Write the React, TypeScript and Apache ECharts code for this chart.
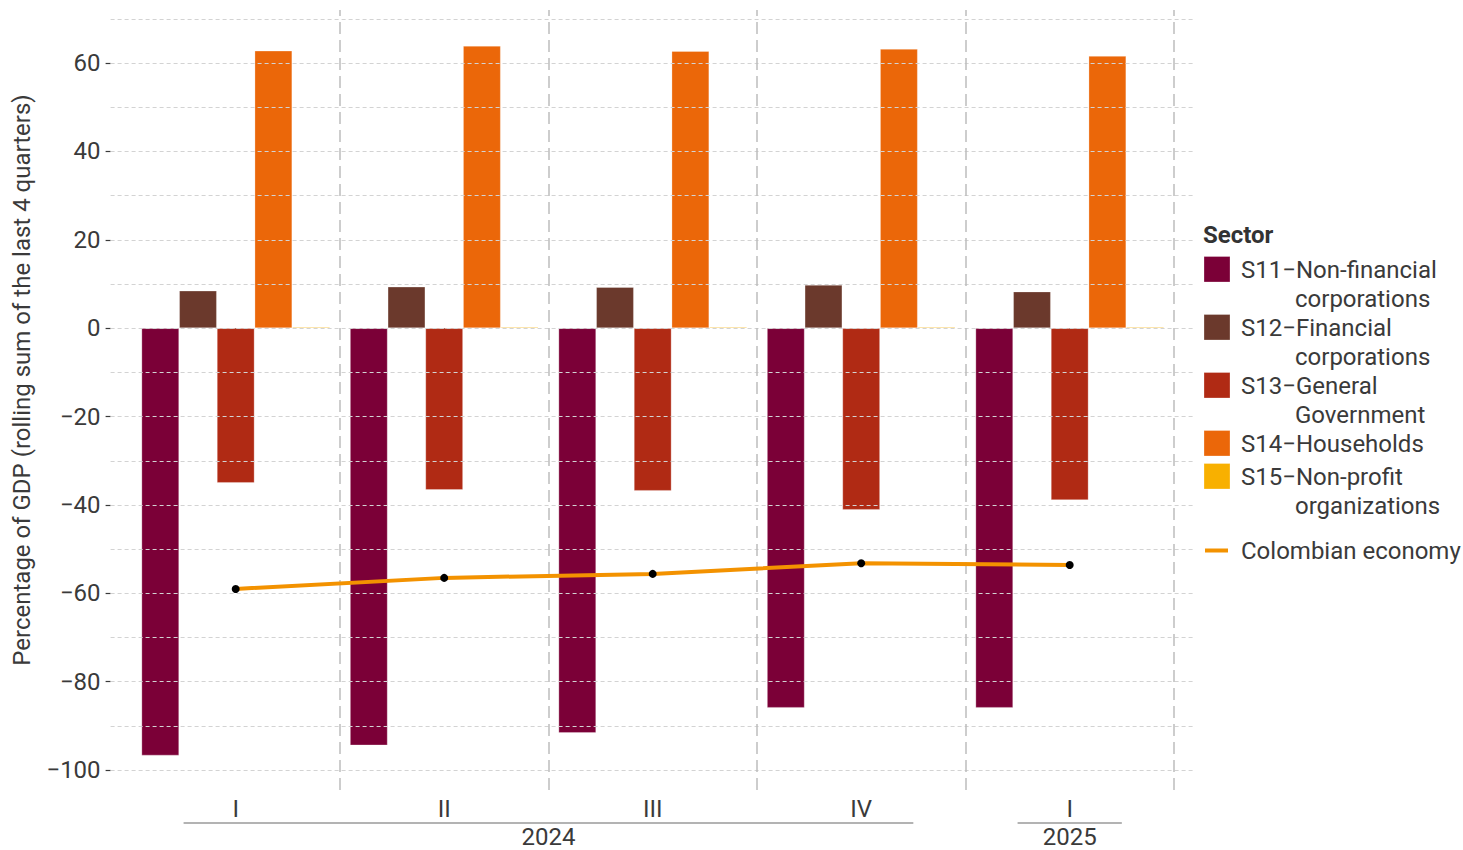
import React, { useEffect, useRef } from "react";
import * as echarts from "echarts";

// ---- data ----
const quarters = ["I", "II", "III", "IV", "I"];
const years = ["2024", "2024", "2024", "2024", "2025"];
const categoryKeys = quarters.map((q, i) => `${years[i]}-${q}`);

const sectorNames = [
  "S11−Non-financial corporations",
  "S12−Financial corporations",
  "S13−General Government",
  "S14−Households",
  "S15−Non-profit organizations",
];
const legendLines = [
  ["S11−Non-financial", "corporations"],
  ["S12−Financial", "corporations"],
  ["S13−General", "Government"],
  ["S14−Households"],
  ["S15−Non-profit", "organizations"],
];
const s11 = [-96.7, -94.4, -91.6, -85.9, -85.9];
const s12 = [8.5, 9.4, 9.3, 9.8, 8.3];
const s13 = [-35.0, -36.6, -36.8, -41.1, -38.9];
const s14 = [62.8, 63.9, 62.7, 63.2, 61.6];
const s15 = [0.3, 0.3, 0.3, 0.3, 0.3];
const economyName = "Colombian economy";
const economy = [-59.0, -56.5, -55.6, -53.2, -53.6];

const yTickLabels = [-100, -80, -60, -40, -20, 0, 20, 40, 60];
const yGridValues = [-100, -90, -80, -70, -60, -50, -40, -30, -20, -10, 0, 10, 20, 30, 40, 50, 60, 70];
const groupBoundaries = [0.5, 1.5, 2.5, 3.5, 4.5];
const yMin = -104.5;
const yMax = 72;
const xMin = -0.6;
const xMax = 4.6;

const sectorColors = ["#7B0037", "#6B392C", "#B02A14", "#EB6709", "#F8B000"];
const lineColor = "#F39200";
const textColor = "#3a3a3a";
const FONT = "Roboto";
const FS = 24;

export default function App() {
  const ref = useRef<HTMLDivElement>(null);

  useEffect(() => {
    if (!ref.current) return;
    const chart = echarts.init(ref.current, null, { renderer: "svg" });

    const barSeries = [s11, s12, s13, s14, s15].map((vals, i) => ({
      name: sectorNames[i],
      type: "bar",
      xAxisIndex: 1,
      yAxisIndex: 1,
      data: vals,
      barWidth: 37.7,
      barGap: "0%",
      z: 2,
      itemStyle: {
        color: sectorColors[i],
        borderColor: "rgba(255,255,255,0.35)",
        borderWidth: 0.8,
      },
    }));

    const option: any = {
      animation: false,
      textStyle: { fontFamily: FONT },
      grid: [
        { left: 110.6, right: 268.2, top: 10, bottom: 60 },
        { left: 131.45, right: 289.05, top: 10, bottom: 60 },
      ],
      xAxis: [
        { type: "value", gridIndex: 0, min: xMin, max: xMax, show: false },
        {
          type: "category",
          gridIndex: 1,
          data: categoryKeys,
          axisLine: { show: false },
          axisTick: { show: true, alignWithLabel: true, length: 5, lineStyle: { color: textColor, width: 1 } },
          axisLabel: {
            fontFamily: FONT,
            fontSize: FS,
            color: textColor,
            margin: 7,
            formatter: (v: string) => v.split("-")[1],
          },
          splitLine: { show: false },
        },
      ],
      yAxis: [
        {
          type: "value",
          gridIndex: 0,
          min: yMin,
          max: yMax,
          axisLine: { show: false, onZero: false },
          axisTick: { show: true, length: 5, customValues: yTickLabels, lineStyle: { color: textColor, width: 1.2 } },
          axisLabel: {
            customValues: yTickLabels,
            fontFamily: FONT,
            fontSize: FS,
            color: textColor,
            margin: 10,
            formatter: (v: number) => (v < 0 ? "−" + Math.abs(v) : String(v)),
          },
          splitLine: { show: false },
        },
        { type: "value", gridIndex: 1, min: yMin, max: yMax, show: false },
      ],
      series: [
        {
          type: "scatter",
          xAxisIndex: 0,
          yAxisIndex: 0,
          data: [[0, 0]],
          symbolSize: 0,
          silent: true,
          z: 1,
          markLine: {
            silent: true,
            symbol: "none",
            label: { show: false },
            data: [
              ...yGridValues.map((v) => ({
                yAxis: v,
                lineStyle: { color: "#d3d3d3", width: 1, type: [4, 3] },
              })),
              ...groupBoundaries.map((v) => ({
                xAxis: v,
                lineStyle: { color: "#bdbdbd", width: 1.5, type: [12, 6] },
              })),
            ],
          },
        },
        ...barSeries,
        {
          name: economyName,
          type: "line",
          xAxisIndex: 1,
          yAxisIndex: 1,
          data: economy,
          z: 5,
          symbol: "circle",
          symbolSize: 8,
          lineStyle: { color: lineColor, width: 4 },
          itemStyle: { color: "#000000", borderWidth: 0 },
        },
      ],
    };

    chart.setOption(option);

    // ---- annotations computed from scales ----
    const px = (i: number) => chart.convertToPixel({ xAxisIndex: 1 } as any, i) as number;
    const band = px(1) - px(0);
    const yearGroups: { year: string; first: number; last: number }[] = [];
    years.forEach((y, i) => {
      const g = yearGroups.find((gg) => gg.year === y);
      if (g) g.last = i;
      else yearGroups.push({ year: y, first: i, last: i });
    });

    const graphics: any[] = [];
    yearGroups.forEach((g) => {
      const x1 = px(g.first) - band / 4;
      const x2 = px(g.last) + band / 4;
      graphics.push({
        type: "line",
        shape: { x1, y1: 823, x2, y2: 823 },
        style: { stroke: "#9a9a9a", lineWidth: 1.6 },
        silent: true,
      });
      graphics.push({
        type: "text",
        x: (px(g.first) + px(g.last)) / 2,
        y: 837,
        style: {
          text: g.year,
          fontFamily: FONT,
          fontSize: FS,
          fill: textColor,
          textAlign: "center",
          textVerticalAlign: "middle",
        },
        silent: true,
      });
    });

    // y-axis title
    graphics.push({
      type: "text",
      x: 22,
      y: 380,
      rotation: Math.PI / 2,
      style: {
        text: "Percentage of GDP (rolling sum of the last 4 quarters)",
        fontFamily: FONT,
        fontSize: FS,
        fill: textColor,
        textAlign: "center",
        textVerticalAlign: "middle",
      },
      silent: true,
    });

    // legend
    graphics.push({
      type: "text",
      x: 1203,
      y: 234.5,
      style: {
        text: "Sector",
        fontFamily: FONT,
        fontSize: FS,
        fontWeight: "bold",
        fill: "#333333",
        textAlign: "left",
        textVerticalAlign: "middle",
      },
      silent: true,
    });
    let cursor = 256.5;
    legendLines.forEach((lines, i) => {
      graphics.push({
        type: "rect",
        shape: { x: 1204, y: cursor, width: 26, height: 25.5 },
        style: { fill: sectorColors[i], stroke: "rgba(255,255,255,0.35)", lineWidth: 0.8 },
        silent: true,
      });
      lines.forEach((t, li) => {
        graphics.push({
          type: "text",
          x: li === 0 ? 1241 : 1295,
          y: cursor + 13.5 + li * 29,
          style: {
            text: t,
            fontFamily: FONT,
            fontSize: FS,
            fill: textColor,
            textAlign: "left",
            textVerticalAlign: "middle",
          },
          silent: true,
        });
      });
      cursor += lines.length === 2 ? 58 : 33;
    });
    graphics.push({
      type: "line",
      shape: { x1: 1205, y1: 550.5, x2: 1228, y2: 550.5 },
      style: { stroke: lineColor, lineWidth: 4 },
      silent: true,
    });
    graphics.push({
      type: "text",
      x: 1241,
      y: 550.5,
      style: {
        text: economyName,
        fontFamily: FONT,
        fontSize: FS,
        fill: textColor,
        textAlign: "left",
        textVerticalAlign: "middle",
      },
      silent: true,
    });

    chart.setOption({ graphic: graphics });

    return () => {
      chart.dispose();
    };
  }, []);

  return (
    <div
      ref={ref}
      style={{ position: "absolute", left: 0, top: 0, width: 1463, height: 850, background: "#ffffff" }}
    />
  );
}
